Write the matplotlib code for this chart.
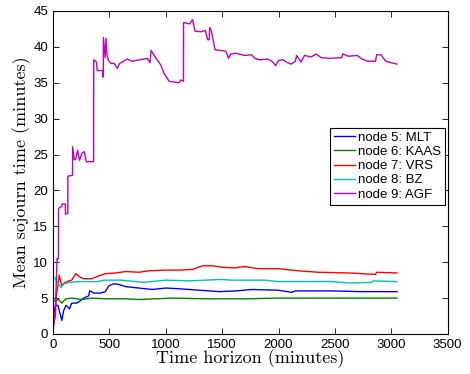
import matplotlib
matplotlib.use("Agg")
import matplotlib.pyplot as plt

# ---------- data ----------
agf_t = [0, 20, 36, 37, 48, 49, 79, 80, 109, 110, 131, 132, 173, 174, 188, 200, 218,
         235, 257, 278, 296, 360, 361, 385, 392, 440, 441, 446, 447, 462, 470, 478,
         490, 512, 542, 571, 590, 615, 658, 702, 732, 836, 860, 870, 890, 910, 955,
         985, 1030, 1119, 1134, 1157, 1158, 1210, 1238, 1259, 1313, 1350, 1372, 1385,
         1390, 1405, 1437, 1533, 1557, 1575, 1625, 1700, 1760, 1790, 1830, 1900, 1940,
         1975, 2000, 2040, 2080, 2110, 2150, 2160, 2200, 2230, 2290, 2330, 2380, 2450,
         2560, 2570, 2620, 2700, 2740, 2790, 2860, 2870, 2910, 2950, 3000, 3050]
agf_v = [0.5, 3.0, 10.5, 10.5, 10.5, 17.5, 17.8, 18.1, 18.1, 16.7, 16.8, 22.0, 22.1, 26.1,
         24.3, 24.3, 25.6, 24.2, 25.2, 25.4, 24.0, 24.0, 38.2, 37.9, 36.7, 36.7, 35.8,
         35.8, 41.3, 38.5, 41.2, 39.0, 38.2, 37.7, 37.7, 37.0, 37.7, 37.9, 38.3, 38.0,
         38.1, 38.4, 37.8, 39.5, 39.0, 38.5, 37.5, 36.3, 35.2, 35.0, 35.4, 35.2, 43.4,
         43.2, 43.8, 42.2, 42.1, 42.3, 41.0, 41.0, 42.7, 42.2, 39.6, 39.4, 38.4, 39.0,
         39.1, 38.8, 38.9, 38.4, 38.2, 38.3, 38.0, 37.4, 38.1, 38.2, 37.8, 37.6, 38.0,
         38.8, 37.9, 38.8, 38.6, 39.0, 38.5, 38.4, 38.5, 39.0, 38.7, 38.8, 38.3, 38.0,
         38.0, 38.9, 38.9, 38.0, 37.8, 37.6]

vrs_t = [0, 10, 20, 30, 48, 55, 76, 121, 166, 202, 241, 271, 345, 390, 464, 554, 643,
         762, 851, 1000, 1119, 1238, 1327, 1417, 1500, 1610, 1699, 1818, 1997, 2176,
         2354, 2622, 2860, 2870, 3050]
vrs_v = [0.9, 1.5, 2.5, 5.5, 7.1, 8.2, 6.8, 7.3, 7.5, 8.4, 7.9, 7.7, 7.7, 8.0, 8.4, 8.5,
         8.7, 8.6, 8.8, 8.9, 8.9, 9.0, 9.5, 9.5, 9.3, 9.2, 9.4, 9.1, 9.1, 8.8, 8.6, 8.5,
         8.3, 8.6, 8.5]

bz_t = [5, 15, 40, 70, 100, 150, 250, 400, 450, 600, 800, 1000, 1200, 1500, 1580,
        1878, 2000, 2464, 2638, 2831, 2840, 3050]
bz_v = [8.0, 7.8, 7.2, 6.5, 7.0, 7.2, 7.3, 7.3, 7.5, 7.5, 7.2, 7.5, 7.4, 7.6, 7.5,
        7.5, 7.3, 7.3, 7.1, 7.2, 7.4, 7.3]

mlt_t = [0, 20, 43, 78, 95, 116, 146, 166, 211, 241, 271, 316, 325, 330, 360, 420,
         464, 494, 539, 583, 643, 762, 881, 1000, 1119, 1297, 1476, 1625, 1759, 1997,
         2116, 2150, 2464, 2741, 3050]
mlt_v = [2.0, 4.0, 4.0, 1.9, 3.3, 4.0, 3.5, 4.3, 4.3, 4.6, 5.0, 5.3, 6.0, 6.0, 5.7,
         5.7, 5.9, 6.7, 7.0, 6.9, 6.6, 6.4, 6.2, 6.4, 6.3, 6.1, 5.9, 6.0, 6.2, 6.1,
         5.8, 6.0, 6.0, 5.9, 5.9]

kaas_t = [5, 48, 78, 95, 116, 166, 256, 345, 464, 643, 762, 1060, 1357, 1700, 2000,
          2500, 3050]
kaas_v = [4.6, 4.8, 4.3, 4.6, 4.9, 5.0, 4.8, 5.0, 4.9, 4.9, 4.8, 5.0, 4.9, 4.9, 5.0,
          5.0, 5.0]

series = [
    ("node 5: MLT", mlt_t, mlt_v, (0, 0, 1)),
    ("node 6: KAAS", kaas_t, kaas_v, (0, 0.5, 0)),
    ("node 7: VRS", vrs_t, vrs_v, (1, 0, 0)),
    ("node 8: BZ", bz_t, bz_v, (0, 0.75, 0.75)),
    ("node 9: AGF", agf_t, agf_v, (0.75, 0, 0.75)),
]

# ---------- figure ----------
fig = plt.figure(figsize=(4.7, 3.74), dpi=100)
ax = fig.add_axes([0.1128, 0.107, 0.8397, 0.8636])

for label, t, v, c in series:
    ax.plot(t, v, color=c, lw=1.0, label=label)

ax.set_xlim(0, 3500)
ax.set_ylim(0, 45)
ax.set_xticks(range(0, 3501, 500))
ax.set_yticks(range(0, 46, 5))
ax.tick_params(direction="in", top=True, right=True, length=4, width=0.6,
               labelsize=9.5)
for lab in ax.get_xticklabels() + ax.get_yticklabels():
    lab.set_fontfamily("Liberation Sans")
for s in ax.spines.values():
    s.set_linewidth(0.8)

ax.set_xlabel("Time horizon (minutes)", fontfamily="cmr10", fontsize=13, labelpad=-1)
ax.set_ylabel("Mean sojourn time (minutes)", fontfamily="cmr10", fontsize=13, labelpad=2)

leg = ax.legend(loc="upper right", bbox_to_anchor=(0.993, 0.639),
                prop={"family": "Liberation Sans", "size": 9.5},
                fancybox=False, edgecolor="black", framealpha=1,
                handlelength=1.6, handletextpad=0.2, borderpad=0.3,
                labelspacing=0.15, borderaxespad=0)
leg.get_frame().set_linewidth(0.8)

fig.savefig("out.png", dpi=100)
